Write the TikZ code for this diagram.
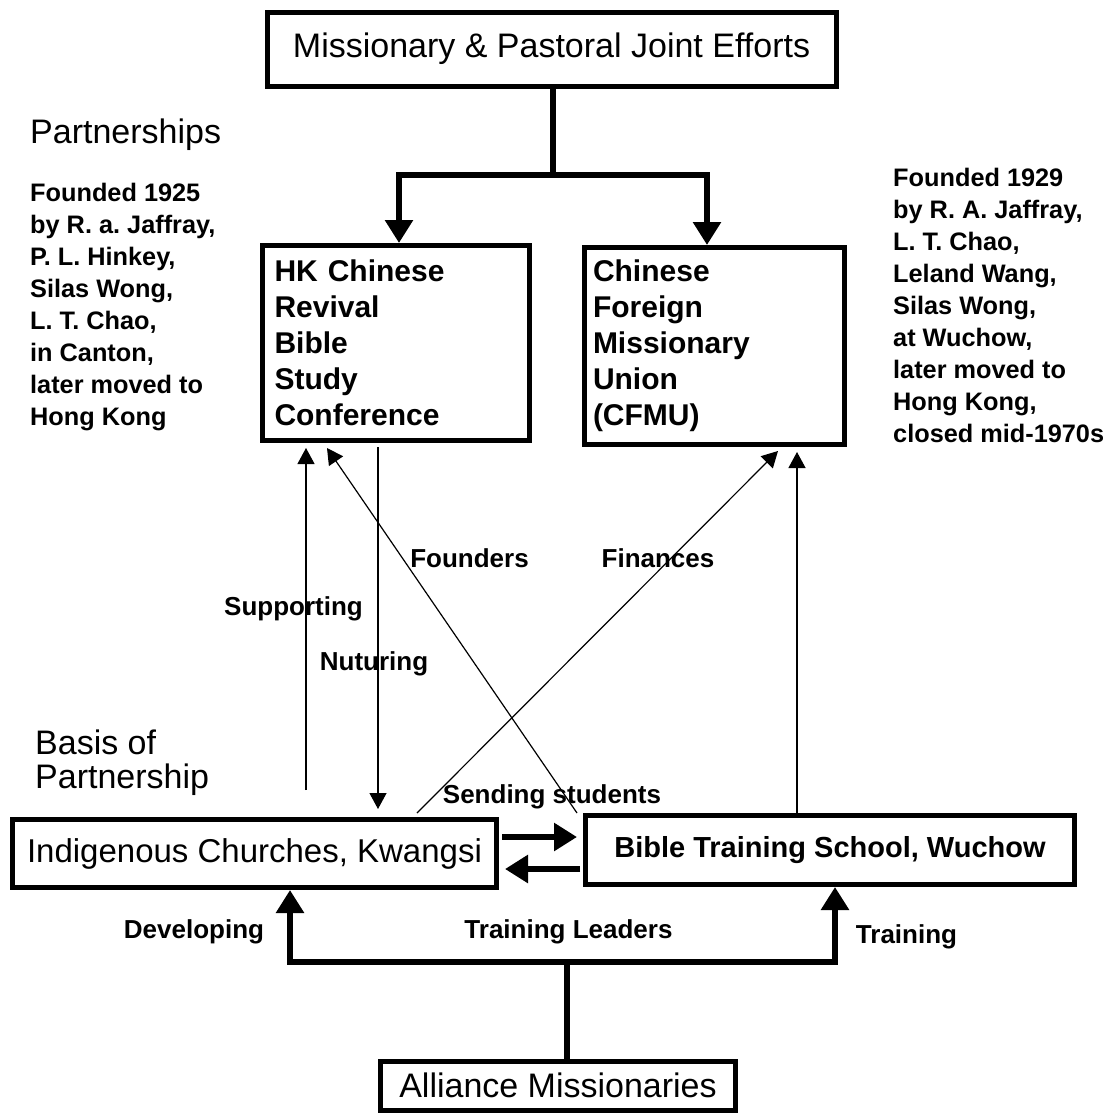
\documentclass[tikz,border=0pt]{standalone}
\usepackage{fontspec}
\setmainfont{Liberation Sans}
\usetikzlibrary{arrows.meta}
\frenchspacing

\begin{document}
\begin{tikzpicture}[x=1pt,y=-1pt,
    box/.style={draw,line width=5pt,inner sep=0pt},
    big/.style={line width=6pt},
    bigarr/.style={big,-{Triangle[length=23pt,width=27pt]}},
    thinarr/.style={line width=1.2pt,-{Triangle[length=16pt,width=17pt]}},
    lbl/.style={font=\bfseries\fontsize{26}{32}\selectfont},
    note/.style={align=left,anchor=north west,inner sep=0pt,font=\bfseries\fontsize{25.3}{32}\selectfont},
    head/.style={font=\fontsize{34}{34}\selectfont},
    listbox/.style={box,text width=243pt,align=left,font=\bfseries\fontsize{30}{36}\selectfont}]
\useasboundingbox (0,0) rectangle (1112,1114);
% boxes
\node[box,head,minimum width=569pt,minimum height=74pt] (top) at (551.5,49) {Missionary \& Pastoral Joint Efforts};
\node[listbox,minimum width=267pt,minimum height=195pt] (hk) at (396,343) {HK Chinese\\Revival\\Bible\\Study\\Conference};
\node[listbox,minimum width=260pt,minimum height=197pt] (cfmu) at (714.5,346) {Chinese\\Foreign\\Missionary\\Union\\(CFMU)};
\node[box,font=\fontsize{33}{33}\selectfont,minimum width=484pt,minimum height=68pt] (ick) at (254.5,853.5) {Indigenous Churches, Kwangsi};
\node[box,font=\bfseries\fontsize{29}{29}\selectfont,minimum width=489pt,minimum height=69pt] (bts) at (830,850) {Bible Training School, Wuchow};
\node[box,head,minimum width=355pt,minimum height=49pt] (ally) at (558,1085.5) {Alliance Missionaries};
% side notes
\node[head,anchor=west,inner sep=0pt] (part) at (30,135) {Partnerships};
\node[note] (left) at (30,183) {Founded 1925\\by R. a. Jaffray,\\P. L. Hinkey,\\Silas Wong,\\L. T. Chao,\\in Canton,\\later moved to\\Hong Kong};
\node[note] (right) at (893,168) {Founded 1929\\by R. A. Jaffray,\\L. T. Chao,\\Leland Wang,\\Silas Wong,\\at Wuchow,\\later moved to\\Hong Kong,\\closed mid-1970s};
\node[head,align=left,anchor=north west,inner sep=0pt] (basis) at (35,730) {Basis of\\Partnership};
% top split
\coordinate (split) at (553,175);
\draw[big] (split |- top.south) -- (split);
\draw[bigarr] (split) -| ([xshift=3pt]hk.north);
\draw[bigarr] (split) -| ([xshift=-7.5pt]cfmu.north);
% thin links
\coordinate (sup) at (306,790);
\coordinate (nut) at (378,600);
\coordinate (pay) at ([xshift=-33pt]bts.north);
\draw[thinarr,shorten >=5pt] (sup) -- (sup |- hk.south);
\draw[thinarr,shorten <=4pt,shorten >=8pt] (hk.south -| nut) -- (ick.north -| nut);
\draw[thinarr] ([xshift=-6pt]bts.north west) -- ([xshift=67pt,yshift=-5pt]hk.south west);
\draw[thinarr] ([xshift=162.5pt,yshift=4pt]ick.north) -- ([xshift=63.5pt,yshift=-4pt]cfmu.south);
\draw[thinarr,shorten >=5pt] (pay) -- (pay |- cfmu.south);
% between the two schools
\coordinate (sendA) at ([yshift=16.5pt]ick.east);
\coordinate (backB) at ([yshift=-15.5pt]ick.east);
\draw[bigarr,shorten <=3pt,shorten >=6pt] (sendA) -- (sendA -| bts.west);
\draw[bigarr,shorten <=3pt,shorten >=6pt] (backB -| bts.west) -- (backB);
% bottom split
\coordinate (lead) at (567,962);
\draw[big] (lead |- ally.north) -- (lead);
\draw[bigarr] (lead) -| ([xshift=35.5pt]ick.south);
\draw[bigarr] (lead) -| ([xshift=5pt]bts.south);
% labels
\node[lbl] (fnd) at (469.5,558) {Founders};
\node[lbl] (fin) at (658,558) {Finances};
\node[lbl] (spt) at (293.5,609) {Supporting};
\node[lbl] (ntr) at (374,664) {Nuturing};
\node[lbl] (snd) at (552,797) {Sending students};
\node[lbl] (dev) at (194,932) {Developing};
\node[lbl] (tld) at (568.5,932) {Training Leaders};
\node[lbl] (trn) at (906.5,937) {Training};
\end{tikzpicture}
\end{document}
